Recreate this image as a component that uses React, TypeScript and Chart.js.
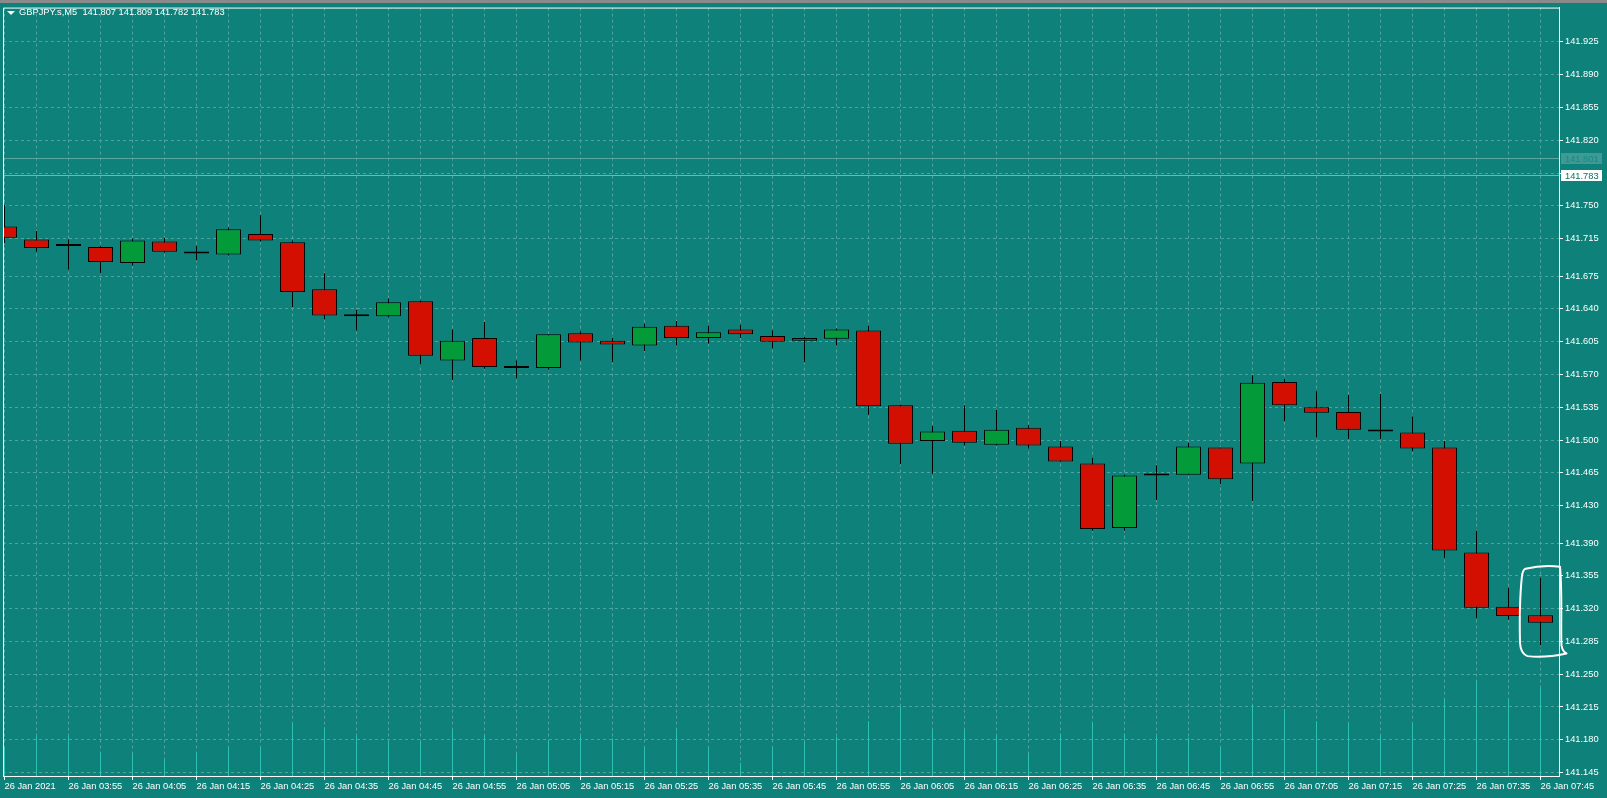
import React, { useEffect, useRef } from 'react';
import Chart from 'chart.js/auto';

// GBPJPY.s M5, 26 Jan 2021 03:45 .. 07:45 (one candle every 5 minutes)
const symbolTitle = 'GBPJPY.s,M5';
const headerPrices = ['141.807', '141.809', '141.782', '141.783'];
const askPrice = 141.801;
const bidPrice = 141.783;

const xTickLabels = [
    '26 Jan 2021', '26 Jan 03:55', '26 Jan 04:05', '26 Jan 04:15', '26 Jan 04:25',
    '26 Jan 04:35', '26 Jan 04:45', '26 Jan 04:55', '26 Jan 05:05', '26 Jan 05:15',
    '26 Jan 05:25', '26 Jan 05:35', '26 Jan 05:45', '26 Jan 05:55', '26 Jan 06:05',
    '26 Jan 06:15', '26 Jan 06:25', '26 Jan 06:35', '26 Jan 06:45', '26 Jan 06:55',
    '26 Jan 07:05', '26 Jan 07:15', '26 Jan 07:25', '26 Jan 07:35', '26 Jan 07:45',
];

const priceTicks = [
    141.925, 141.890, 141.855, 141.820, 141.785, 141.750, 141.715, 141.675,
    141.640, 141.605, 141.570, 141.535, 141.500, 141.465, 141.430, 141.390,
    141.355, 141.320, 141.285, 141.250, 141.215, 141.180, 141.145,
];
// label hidden under the bid price box
const hiddenPriceTicks = [141.785];

const opens = [
    141.728, 141.714, 141.707, 141.706, 141.689, 141.712, 141.699, 141.698, 141.720, 141.711,
    141.661, 141.632, 141.632, 141.648, 141.585, 141.609, 141.577, 141.577, 141.614, 141.606,
    141.601, 141.622, 141.609, 141.618, 141.611, 141.609, 141.608, 141.617, 141.537, 141.499,
    141.510, 141.495, 141.513, 141.493, 141.475, 141.406, 141.462, 141.463, 141.492, 141.475,
    141.562, 141.535, 141.530, 141.509, 141.508, 141.492, 141.380, 141.322, 141.313,
];
const highs = [
    141.751, 141.723, 141.714, 141.707, 141.715, 141.716, 141.707, 141.727, 141.740, 141.713,
    141.678, 141.639, 141.651, 141.649, 141.618, 141.626, 141.585, 141.613, 141.616, 141.609,
    141.624, 141.627, 141.622, 141.623, 141.617, 141.610, 141.619, 141.622, 141.538, 141.515,
    141.537, 141.532, 141.516, 141.499, 141.481, 141.463, 141.473, 141.497, 141.492, 141.569,
    141.565, 141.552, 141.548, 141.549, 141.525, 141.499, 141.403, 141.342, 141.353,
];
const lows = [
    141.710, 141.701, 141.682, 141.678, 141.686, 141.700, 141.692, 141.697, 141.712, 141.642,
    141.629, 141.617, 141.631, 141.581, 141.564, 141.576, 141.566, 141.575, 141.585, 141.583,
    141.595, 141.601, 141.603, 141.609, 141.598, 141.583, 141.601, 141.527, 141.474, 141.464,
    141.494, 141.494, 141.491, 141.477, 141.403, 141.403, 141.436, 141.463, 141.453, 141.435,
    141.520, 141.503, 141.501, 141.501, 141.488, 141.374, 141.310, 141.308, 141.281,
];
const closes = [
    141.716, 141.705, 141.707, 141.690, 141.713, 141.701, 141.699, 141.725, 141.713, 141.658,
    141.633, 141.632, 141.647, 141.590, 141.606, 141.578, 141.577, 141.613, 141.604, 141.602,
    141.621, 141.609, 141.615, 141.613, 141.605, 141.606, 141.618, 141.536, 141.496, 141.509,
    141.497, 141.511, 141.494, 141.477, 141.405, 141.462, 141.462, 141.493, 141.458, 141.561,
    141.537, 141.529, 141.511, 141.509, 141.491, 141.382, 141.321, 141.312, 141.305,
];
const tickVolumes = [
    87, 120, 120, 72, 68, 50, 72, 86, 86, 158,
    146, 120, 104, 105, 140, 124, 68, 108, 120, 114,
    86, 143, 85, 40, 86, 104, 118, 165, 210, 140,
    140, 125, 68, 128, 162, 128, 120, 115, 86, 215,
    202, 165, 158, 122, 158, 233, 287, 230, 265,
];

const BG = '#0e827a';
const GRID = '#4fa49d';
const BULL = '#039a3a';
const BEAR = '#d20f00';
const VOL = '#2cc2b2';
const FONT = { family: "'Liberation Sans', Arial, sans-serif", size: 9.3 };

const candleIndex = opens.map((_, i) => i);

const mtPlugin = {
    id: 'mtDecor',
    beforeDraw(chart: any) {
        const { ctx, width, height } = chart;
        ctx.save();
        ctx.fillStyle = BG;
        ctx.fillRect(0, 0, width, height);
        ctx.fillStyle = '#8a8a8a';
        ctx.fillRect(0, 0, width, 3);
        ctx.restore();
    },
    afterDraw(chart: any) {
        const { ctx, chartArea } = chart;
        const x = chart.scales.x;
        const y = chart.scales.y;
        ctx.save();

        // frame (left / top)
        ctx.strokeStyle = '#ffffff';
        ctx.lineWidth = 1;
        ctx.beginPath();
        ctx.moveTo(chartArea.left + 0.5, chartArea.bottom);
        ctx.lineTo(chartArea.left + 0.5, chartArea.top + 0.5);
        ctx.lineTo(chartArea.right + 1, chartArea.top + 0.5);
        ctx.stroke();

        // ask / bid lines with their boxes
        const levels = [
            { v: askPrice, line: '#5aa7a1', box: '#3e9a93', text: '#188b83' },
            { v: bidPrice, line: '#74b6b1', box: '#ffffff', text: '#0a6e68' },
        ];
        ctx.font = `${FONT.size}px ${FONT.family}`;
        ctx.textBaseline = 'middle';
        ctx.textAlign = 'left';
        levels.forEach((l) => {
            const py = Math.round(y.getPixelForValue(l.v)) + 0.5;
            ctx.strokeStyle = l.line;
            ctx.beginPath();
            ctx.moveTo(chartArea.left + 1, py);
            ctx.lineTo(chartArea.right, py);
            ctx.stroke();
            ctx.fillStyle = l.box;
            ctx.fillRect(chartArea.right + 2, py - 5.5, 41, 11);
            ctx.fillStyle = l.text;
            ctx.fillText(l.v.toFixed(3), chartArea.right + 6, py + 0.5);
        });

        // hand drawn mark around the last candle
        const last = opens.length - 1;
        const cx = x.getPixelForValue(last);
        const t = y.getPixelForValue(highs[last]) - 11;
        const b = y.getPixelForValue(lows[last]) + 11;
        const h = b - t;
        ctx.strokeStyle = '#ffffff';
        ctx.lineWidth = 2;
        ctx.lineJoin = 'round';
        ctx.lineCap = 'round';
        ctx.beginPath();
        ctx.moveTo(cx - 15, t + 2);
        ctx.quadraticCurveTo(cx + 2, t - 2, cx + 19.5, t);
        ctx.bezierCurveTo(cx + 22, t + h * 0.3, cx + 20, t + h * 0.7, cx + 21, t + h * 0.88);
        ctx.quadraticCurveTo(cx + 22, t + h * 0.95, cx + 26, t + h * 0.97);
        ctx.quadraticCurveTo(cx + 5, t + h * 1.02, cx - 13, t + h);
        ctx.quadraticCurveTo(cx - 20, t + h * 0.97, cx - 20.5, t + h * 0.85);
        ctx.bezierCurveTo(cx - 21, t + h * 0.6, cx - 20, t + h * 0.25, cx - 18.5, t + h * 0.1);
        ctx.quadraticCurveTo(cx - 17.5, t + 3, cx - 15, t + 2);
        ctx.stroke();

        ctx.restore();
    },
};

const App: React.FC = () => {
    const canvasRef = useRef<HTMLCanvasElement>(null);
    const chartRef = useRef<Chart | null>(null);

    useEffect(() => {
        document.body.style.margin = '0';
        if (!canvasRef.current) return;
        const ctx = canvasRef.current.getContext('2d');
        if (!ctx) return;
        if (chartRef.current) chartRef.current.destroy();

        const bodyColors = opens.map((o, i) => (closes[i] > o ? BULL : closes[i] < o ? BEAR : '#000000'));

        // 32px per candle, first candle centre 1.5px right of the frame
        const xMin = -1.5 / 32;
        const xMax = xMin + 1556 / 32;

        chartRef.current = new Chart(ctx, {
            type: 'bar',
            data: {
                datasets: [
                    {
                        label: 'Volumes',
                        data: tickVolumes.map((v, i) => ({ x: i, y: v })),
                        yAxisID: 'yv',
                        backgroundColor: VOL,
                        borderWidth: 0,
                        barThickness: 1,
                        grouped: false,
                        inflateAmount: 0,
                        order: 3,
                        clip: 0,
                    },
                    {
                        label: 'Shadows',
                        data: candleIndex.map((i) => ({ x: i, y: [lows[i], highs[i]] })),
                        yAxisID: 'y',
                        backgroundColor: '#000000',
                        borderWidth: 0,
                        barThickness: 1,
                        grouped: false,
                        inflateAmount: 0,
                        order: 2,
                        clip: 0,
                    },
                    {
                        label: 'Bodies',
                        data: candleIndex.map((i) => ({ x: i, y: [opens[i], closes[i]] })),
                        yAxisID: 'y',
                        backgroundColor: bodyColors,
                        borderColor: '#000000',
                        borderWidth: 1,
                        borderSkipped: false,
                        barThickness: 25,
                        minBarLength: 2,
                        grouped: false,
                        inflateAmount: 0,
                        order: 1,
                        clip: 0,
                    },
                ] as any,
            },
            options: {
                animation: false,
                responsive: true,
                maintainAspectRatio: false,
                layout: { padding: { left: 3, top: 4, right: 0, bottom: 0 } },
                plugins: {
                    legend: { display: false },
                    tooltip: { enabled: false },
                },
                scales: {
                    x: {
                        type: 'linear',
                        min: xMin,
                        max: xMax,
                        offset: false,
                        grid: {
                            color: GRID,
                            offset: false,
                            drawTicks: true,
                            tickLength: 4,
                            tickColor: (c: any) => (c.index % 2 === 0 ? '#ffffff' : 'rgba(0,0,0,0)'),
                        },
                        border: { color: '#ffffff', width: 1, dash: [3, 3] },
                        ticks: {
                            color: '#ffffff',
                            font: FONT,
                            autoSkip: false,
                            maxRotation: 0,
                            align: 'start',
                            padding: 1,
                            callback: (v: any) => (Number(v) % 2 === 0 ? xTickLabels[Number(v) / 2] : ''),
                        },
                        afterBuildTicks: (s: any) => {
                            s.ticks = candleIndex.map((v) => ({ value: v }));
                        },
                        afterFit: (s: any) => {
                            s.height = 22;
                        },
                    },
                    y: {
                        type: 'linear',
                        position: 'right',
                        min: 141.14128,
                        max: 141.96166,
                        grid: { color: GRID, tickColor: '#ffffff', tickLength: 4 },
                        border: { color: '#ffffff', width: 1, dash: [3, 3] },
                        ticks: {
                            color: '#ffffff',
                            font: FONT,
                            padding: 2,
                            callback: (v: any) => (hiddenPriceTicks.includes(Number(v)) ? '' : Number(v).toFixed(3)),
                        },
                        afterBuildTicks: (s: any) => {
                            s.ticks = priceTicks.map((v) => ({ value: v }));
                        },
                        afterFit: (s: any) => {
                            s.width = 48;
                        },
                    },
                    yv: {
                        type: 'linear',
                        display: false,
                        min: 0,
                        max: 2316,
                    },
                },
            } as any,
            plugins: [mtPlugin],
        });

        return () => {
            if (chartRef.current) chartRef.current.destroy();
            chartRef.current = null;
        };
    }, []);

    return (
        <div style={{ position: 'fixed', left: 0, top: 0, width: 1607, height: 798, background: BG }}>
            <canvas ref={canvasRef}></canvas>
            <div
                style={{
                    position: 'absolute',
                    left: 7,
                    top: 11,
                    width: 0,
                    height: 0,
                    borderLeft: '4px solid transparent',
                    borderRight: '4px solid transparent',
                    borderTop: '4px solid #ffffff',
                }}
            />
            <div
                style={{
                    position: 'absolute',
                    left: 19,
                    top: 7,
                    color: '#ffffff',
                    fontFamily: FONT.family,
                    fontSize: FONT.size,
                    lineHeight: '11px',
                    whiteSpace: 'pre',
                }}
            >
                {`${symbolTitle}  ${headerPrices.join(' ')}`}
            </div>
        </div>
    );
};

export default App;
